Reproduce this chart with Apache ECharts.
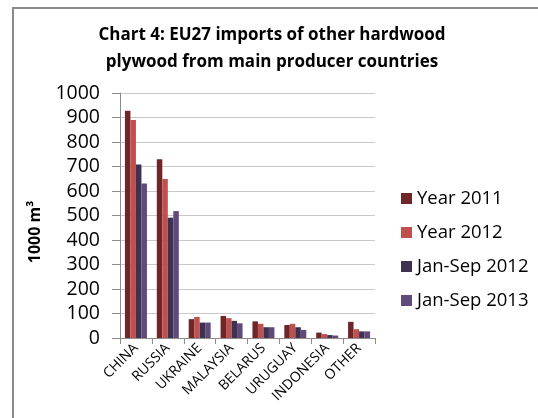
<!DOCTYPE html>
<html>
<head>
<meta charset="utf-8">
<script src="https://cdn.jsdelivr.net/npm/echarts@6/dist/echarts.min.js"></script>
<style>
  html, body { margin: 0; padding: 0; background: #fff; }
  #chart { width: 538px; height: 418px; }
</style>
</head>
<body>
<div id="chart"></div>
<script>
// Countries along the horizontal axis
const countries = ['CHINA', 'RUSSIA', 'UKRAINE', 'MALAYSIA', 'BELARUS', 'URUGUAY', 'INDONESIA', 'OTHER'];

// Imports, 1000 m3
const year2011 = [928, 730, 77, 90, 68, 53, 22, 66];
const year2012 = [890, 649, 86, 81, 58, 58, 16, 36];
const janSep2012 = [708, 491, 63, 70, 44, 44, 12, 27];
const janSep2013 = [631, 518, 63, 60, 44, 33, 10, 27];

const seriesNames = ['Year 2011', 'Year 2012', 'Jan-Sep 2012', 'Jan-Sep 2013'];
const seriesColors = ['#6e2628', '#c0504d', '#3f3151', '#604a7b'];
const seriesData = [year2011, year2012, janSep2012, janSep2013];

const font = '"Open Sans", "Noto Sans", sans-serif';

const chart = echarts.init(document.getElementById('chart'), null, { renderer: 'canvas' });

chart.setOption({
  animation: false,
  backgroundColor: '#ffffff',
  textStyle: { fontFamily: font },
  title: {
    text: 'Chart 4: EU27 imports of other hardwood\nplywood from main producer countries',
    left: 272,
    top: 22,
    padding: 0,
    textAlign: 'center',
    textStyle: { fontFamily: font, fontSize: 17, fontWeight: 'bold', color: '#000', lineHeight: 27 }
  },
  legend: {
    orient: 'vertical',
    left: 401,
    top: 186,
    padding: 0,
    itemWidth: 11,
    itemHeight: 11,
    itemGap: 9,
    icon: 'rect',
    textStyle: { fontFamily: font, fontSize: 18.5, color: '#000', lineHeight: 25 },
    data: seriesNames
  },
  grid: { left: 120, right: 163, top: 93, bottom: 80 },
  xAxis: {
    type: 'category',
    data: countries,
    axisLine: { lineStyle: { color: '#8c8c8c', width: 1 } },
    axisTick: { show: true, length: 6, lineStyle: { color: '#8c8c8c' } },
    axisLabel: { rotate: 45, fontSize: 14, color: '#000', margin: 8, interval: 0, fontFamily: font }
  },
  yAxis: {
    type: 'value',
    min: 0,
    max: 1000,
    interval: 100,
    axisLine: { show: true, lineStyle: { color: '#8c8c8c', width: 1 } },
    axisTick: { show: true, length: 8, inside: false, lineStyle: { color: '#8c8c8c' } },
    axisLabel: { fontSize: 19.5, color: '#000', margin: 20, fontFamily: font, formatter: v => String(v) },
    splitLine: { lineStyle: { color: '#c8c8c8', width: 1 } }
  },
  series: seriesData.map((d, i) => ({
    name: seriesNames[i],
    type: 'bar',
    data: d,
    barGap: '0%',
    barCategoryGap: '31%',
    itemStyle: { color: seriesColors[i] }
  })),
  graphic: [
    {
      type: 'text',
      x: 35,
      y: 232,
      rotation: Math.PI / 2,
      style: {
        text: '1000 m³',
        font: 'bold 16px ' + font,
        fill: '#000',
        textAlign: 'center',
        textVerticalAlign: 'middle'
      }
    },
    {
      type: 'polyline',
      shape: { points: [[13, 418], [13, 8], [538, 8]] },
      style: { stroke: '#8a8a8a', lineWidth: 2, fill: null }
    }
  ]
});
</script>
</body>
</html>
